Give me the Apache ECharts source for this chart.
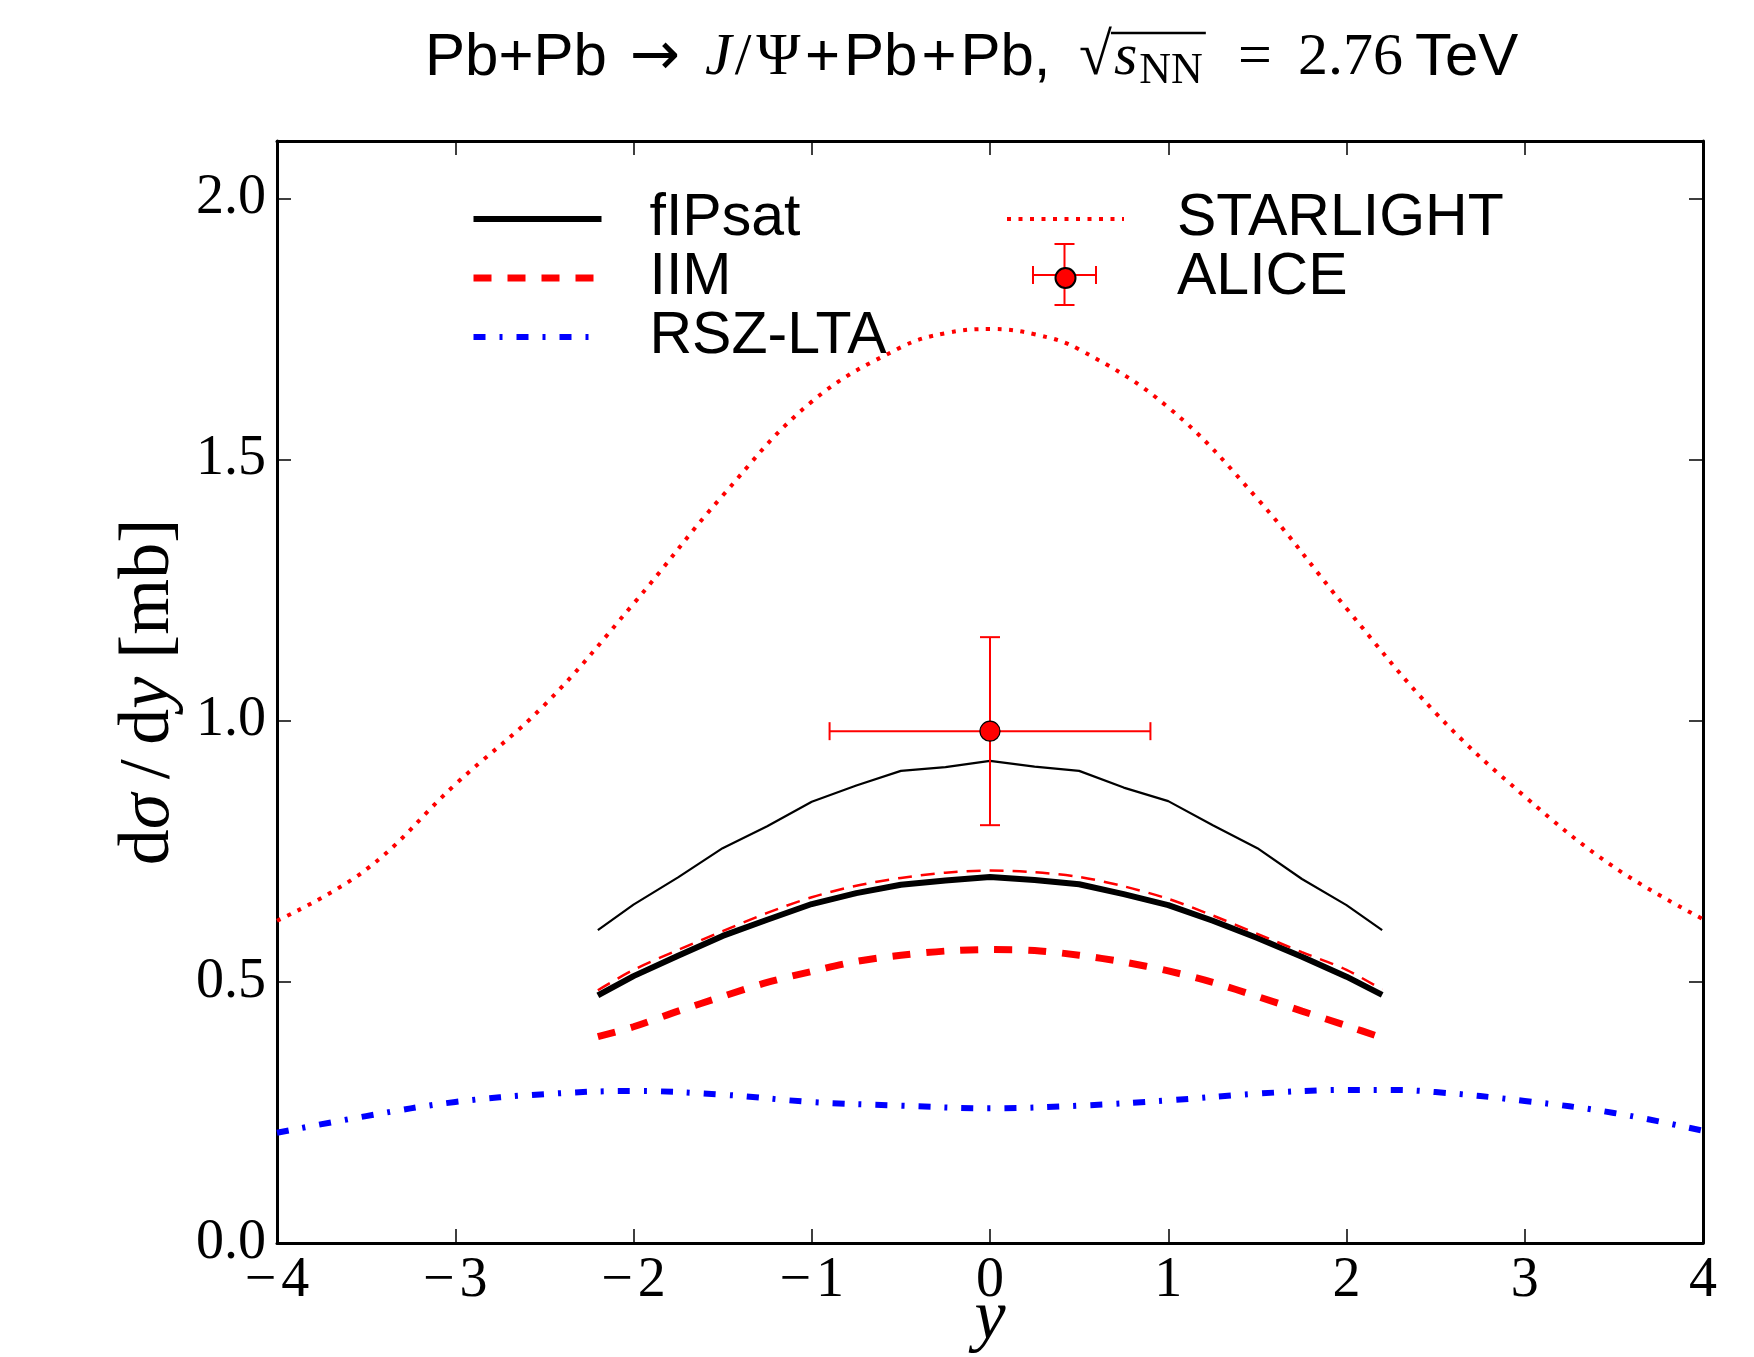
<!DOCTYPE html>
<html>
<head>
<meta charset="utf-8">
<script src="https://cdn.jsdelivr.net/npm/echarts@6/dist/echarts.min.js"></script>
<style>
html,body{margin:0;padding:0;background:#fff;}
#chart{width:1754px;height:1357px;}
</style>
</head>
<body>
<div id="chart"></div>
<script>
// ---- data ----
const rapidityFine = [-2.2,-2,-1.75,-1.5,-1.25,-1,-0.75,-0.5,-0.25,0,0.25,0.5,0.75,1,1.25,1.5,1.75,2,2.2];
const fIPsat      = [0.474,0.511,0.550,0.588,0.619,0.649,0.670,0.686,0.694,0.701,0.695,0.687,0.668,0.647,0.617,0.584,0.548,0.510,0.475];
const fIPsatUpper = [0.599,0.648,0.700,0.756,0.798,0.845,0.876,0.904,0.911,0.923,0.912,0.904,0.872,0.846,0.800,0.756,0.697,0.647,0.599];
const iim         = [0.395,0.414,0.444,0.472,0.499,0.520,0.539,0.551,0.559,0.562,0.560,0.551,0.538,0.521,0.499,0.472,0.444,0.416,0.393];
const iimUpper    = [0.484,0.523,0.561,0.597,0.632,0.662,0.684,0.699,0.709,0.713,0.710,0.701,0.683,0.659,0.627,0.592,0.557,0.523,0.485];

const rapidityStar = [-4,-3.5,-3,-2.5,-2,-1.5,-1,-0.5,-0.25,0,0.25,0.5,1,1.5,2,2.5,3,3.5,4];
const starlight    = [0.617,0.715,0.878,1.030,1.224,1.431,1.611,1.715,1.742,1.750,1.740,1.711,1.600,1.425,1.215,1.015,0.855,0.720,0.620];

const rapidityRsz = [-4,-3.5,-3,-2.5,-2,-1.5,-1,-0.5,0,0.5,1,1.5,2,2.25,2.5,3,3.5,4];
const rszLta      = [0.211,0.243,0.270,0.285,0.291,0.284,0.270,0.263,0.258,0.263,0.273,0.286,0.293,0.293,0.289,0.272,0.249,0.215];

const aliceY = [0];
const aliceVal = [0.98];
const aliceYErr = [0.9];
const aliceValLow = [0.80];
const aliceValHigh = [1.16];

const xTicks = [-4,-3,-2,-1,0,1,2,3,4];
const yTicks = [0.0,0.5,1.0,1.5,2.0];

function pairs(xs, ys){ return xs.map((x,i)=>[x, ys[i]]); }

const serif = 'Liberation Serif';
const sans = 'Liberation Sans';
const RED = '#ff0000';

// ---- title as rich text; token start positions tuned to the reference layout ----
const TF = 60;
const baseStyles = {
  s:   {fontFamily: sans, fontSize: TF},
  arr: {fontFamily: 'DejaVu Sans', fontSize: TF},
  m:   {fontFamily: serif, fontSize: TF},
  i:   {fontFamily: serif, fontStyle: 'italic', fontSize: TF},
  sub: {fontFamily: serif, fontSize: 44, lineHeight: 44, verticalAlign: 'bottom'}
};
// [style, text, start x in px (layout)]
const titleTokens = [
  ['s','Pb+Pb', 425],
  ['arr','→', 630],
  ['i','J', 705],
  ['m','/', null],
  ['m','Ψ', null],
  ['s','+', 805],
  ['s','Pb', null],
  ['s','+', null],
  ['s','Pb,', null],
  ['m','√', 1079],
  ['i','s', null],
  ['sub','NN', null],
  ['m','=', 1238],
  ['m','2.76', 1298],
  ['s','TeV', 1415]
];
const gapExtra = {3: [3, 3], 4: [2, 0], 5: [0, 4], 7: [4, 4], 10: [2, 0], 11: [2, 0]};
const mctx = document.createElement('canvas').getContext('2d');
const richTitle = {};
let titleText = '';
let acc = titleTokens[0][2], barX1 = 0, barX2 = 0;
titleTokens.forEach((t, k) => {
  const b = baseStyles[t[0]];
  mctx.font = (b.fontStyle || 'normal') + ' normal ' + b.fontSize + 'px ' + b.fontFamily;
  const w = mctx.measureText(t[1]).width;
  let padL = 0, padR = 0;
  if (t[2] !== null && k > 0) padL = Math.max(0, t[2] - acc);
  if (gapExtra[k]) { padL += gapExtra[k][0]; padR += gapExtra[k][1]; }
  const st = Object.assign({color: '#000', fontWeight: 'normal', lineHeight: 70}, b);
  st.padding = [0, padR, 0, padL];
  richTitle['t' + k] = st;
  titleText += '{t' + k + '|' + t[1] + '}';
  const start = acc + padL;
  if (k === 9) barX1 = start + w - 1;
  if (k === 11) barX2 = start + w + 3;
  acc = start + w + padR;
});

const chart = echarts.init(document.getElementById('chart'), null, {renderer:'canvas'});

const aliceData = aliceY.map((x,i)=>[x, aliceVal[i], x-aliceYErr[i], x+aliceYErr[i], aliceValLow[i], aliceValHigh[i]]);

const tickStyle = {show: true, inside: true, length: 14, lineStyle: {color: '#000', width: 1.5}};
const frameLine = {show: true, onZero: false, lineStyle: {color: '#000', width: 3}};

const option = {
  backgroundColor: '#fff',
  animation: false,
  title: {
    text: titleText,
    left: titleTokens[0][2], top: 23, padding: 0,
    textStyle: {fontWeight: 'normal', rich: richTitle}
  },
  grid: {left: 277, right: 51, top: 141, bottom: 114, show: false, containLabel: false, outerBoundsMode: 'none'},
  xAxis: [{
    type: 'value', min: xTicks[0], max: xTicks[xTicks.length-1], interval: 1,
    position: 'bottom',
    axisLine: frameLine,
    axisTick: tickStyle,
    axisLabel: {fontFamily: serif, fontSize: 56, color: '#000', margin: 10,
      formatter: v => String(v).replace('-', '\u2212\u200A')},
    splitLine: {show: false},
    name: 'y', nameLocation: 'middle', nameGap: 42, nameMoveOverlap: false,
    nameTextStyle: {fontFamily: serif, fontStyle: 'italic', fontSize: 70, color: '#000'}
  },{
    type: 'value', min: xTicks[0], max: xTicks[xTicks.length-1], interval: 1,
    position: 'top',
    axisLine: frameLine,
    axisTick: tickStyle,
    axisLabel: {show: false}, splitLine: {show: false}
  }],
  yAxis: [{
    type: 'value', min: 0, max: 2.11, interval: 0.5,
    position: 'left',
    axisLine: frameLine,
    axisTick: Object.assign({customValues: yTicks}, tickStyle),
    axisLabel: {fontFamily: serif, fontSize: 56, color: '#000', margin: 11,
      customValues: yTicks,
      formatter: v => (Math.abs(v*2 - Math.round(v*2)) < 1e-6 ? v.toFixed(1) : '')},
    splitLine: {show: false},
    name: '{r|d}{i|σ}{r|\u2009/\u2009d}{i|y}{r| [mb]}', nameLocation: 'middle', nameGap: 92, nameRotate: 90,
    nameMoveOverlap: false,
    nameTextStyle: {rich: {
      r: {fontFamily: serif, fontSize: 72, color: '#000'},
      i: {fontFamily: serif, fontStyle: 'italic', fontSize: 72, color: '#000'}
    }}
  },{
    type: 'value', min: 0, max: 2.11, interval: 0.5,
    position: 'right',
    axisLine: frameLine,
    axisTick: Object.assign({customValues: yTicks}, tickStyle),
    axisLabel: {show: false}, splitLine: {show: false}
  }],
  legend: [{
    data: [
      {name: 'fIPsat', lineStyle: {width: 6, type: 'solid', color: '#000'}},
      {name: 'IIM', lineStyle: {width: 7, type: [18, 16], color: RED}},
      {name: 'RSZ-LTA', lineStyle: {width: 6, type: [12, 14, 3, 14], color: '#0000ff'}}
    ],
    orient: 'vertical', left: 470, top: 189.5, padding: 0,
    itemWidth: 128, itemHeight: 14, itemGap: 0, selectedMode: false,
    itemStyle: {opacity: 0},
    textStyle: {fontFamily: sans, fontSize: 59, color: '#000', lineHeight: 57, padding: [0,0,0,43]}
  },{
    data: [
      {name: 'STARLIGHT', lineStyle: {width: 4, type: [4, 7.5], color: RED}, itemStyle: {opacity: 0}},
      {name: 'ALICE'}
    ],
    orient: 'vertical', left: 1005, top: 189.5, padding: 0, z: 10,
    itemWidth: 117, itemHeight: 20, itemGap: 0, selectedMode: false,
    textStyle: {fontFamily: sans, fontSize: 59, color: '#000', lineHeight: 57, padding: [0,0,0,48]}
  }],
  graphic: [
    {type: 'line', z: 100, shape: {x1: barX1, y1: 33, x2: barX2, y2: 33}, style: {stroke: '#000', lineWidth: 2.5}},
    {type: 'group', z: 1, children: [
      {type: 'line', shape: {x1: 1033, y1: 275, x2: 1096, y2: 275}, style: {stroke: RED, lineWidth: 2}},
      {type: 'line', shape: {x1: 1033, y1: 266, x2: 1033, y2: 284}, style: {stroke: RED, lineWidth: 2}},
      {type: 'line', shape: {x1: 1096, y1: 266, x2: 1096, y2: 284}, style: {stroke: RED, lineWidth: 2}},
      {type: 'line', shape: {x1: 1064.5, y1: 244, x2: 1064.5, y2: 305}, style: {stroke: RED, lineWidth: 2}},
      {type: 'line', shape: {x1: 1054.5, y1: 244, x2: 1074.5, y2: 244}, style: {stroke: RED, lineWidth: 2}},
      {type: 'line', shape: {x1: 1054.5, y1: 305, x2: 1074.5, y2: 305}, style: {stroke: RED, lineWidth: 2}}
    ]}
  ],
  series: [
    {name: 'RSZ-LTA', type: 'line', data: pairs(rapidityRsz, rszLta), symbol: 'none', smooth: 0.4,
      lineStyle: {color: '#0000ff', width: 6, type: [12, 14, 3, 14]}, itemStyle: {color: '#0000ff'}},
    {name: 'STARLIGHT', type: 'line', data: pairs(rapidityStar, starlight), symbol: 'none', smooth: 0.4,
      lineStyle: {color: RED, width: 4, type: [4, 7.5]}, itemStyle: {color: RED}},
    {name: 'fIPsat (upper)', type: 'line', data: pairs(rapidityFine, fIPsatUpper), symbol: 'none',
      lineStyle: {color: '#000', width: 2.2}, itemStyle: {color: '#000'}},
    {name: 'IIM', type: 'line', data: pairs(rapidityFine, iim), symbol: 'none', smooth: 0.3,
      lineStyle: {color: RED, width: 7, type: [18, 16]}, itemStyle: {color: RED}},
    {name: 'fIPsat', type: 'line', data: pairs(rapidityFine, fIPsat), symbol: 'none',
      lineStyle: {color: '#000', width: 6}, itemStyle: {color: '#000'}},
    {name: 'IIM (upper)', type: 'line', data: pairs(rapidityFine, iimUpper), symbol: 'none', smooth: 0.3,
      lineStyle: {color: RED, width: 2.5, type: [14, 9]}, itemStyle: {color: RED}},
    {name: 'ALICE errors', type: 'custom', data: aliceData, z: 5,
      renderItem: function(params, api){
        const c = api.coord([api.value(0), api.value(1)]);
        const l = api.coord([api.value(2), api.value(1)]);
        const r = api.coord([api.value(3), api.value(1)]);
        const lo = api.coord([api.value(0), api.value(4)]);
        const hi = api.coord([api.value(0), api.value(5)]);
        const st = {stroke: RED, lineWidth: 2};
        return {type: 'group', children: [
          {type: 'line', shape: {x1: l[0], y1: c[1], x2: r[0], y2: c[1]}, style: st},
          {type: 'line', shape: {x1: l[0], y1: c[1]-9, x2: l[0], y2: c[1]+9}, style: st},
          {type: 'line', shape: {x1: r[0], y1: c[1]-9, x2: r[0], y2: c[1]+9}, style: st},
          {type: 'line', shape: {x1: c[0], y1: lo[1], x2: c[0], y2: hi[1]}, style: st},
          {type: 'line', shape: {x1: c[0]-10, y1: lo[1], x2: c[0]+10, y2: lo[1]}, style: st},
          {type: 'line', shape: {x1: c[0]-10, y1: hi[1], x2: c[0]+10, y2: hi[1]}, style: st}
        ]};
      }},
    {name: 'ALICE', type: 'scatter', data: pairs(aliceY, aliceVal), z: 6,
      symbol: 'circle', symbolSize: 20,
      itemStyle: {color: RED, borderColor: '#000', borderWidth: 1.2, opacity: 1}}
  ]
};
chart.setOption(option);
</script>
</body>
</html>
